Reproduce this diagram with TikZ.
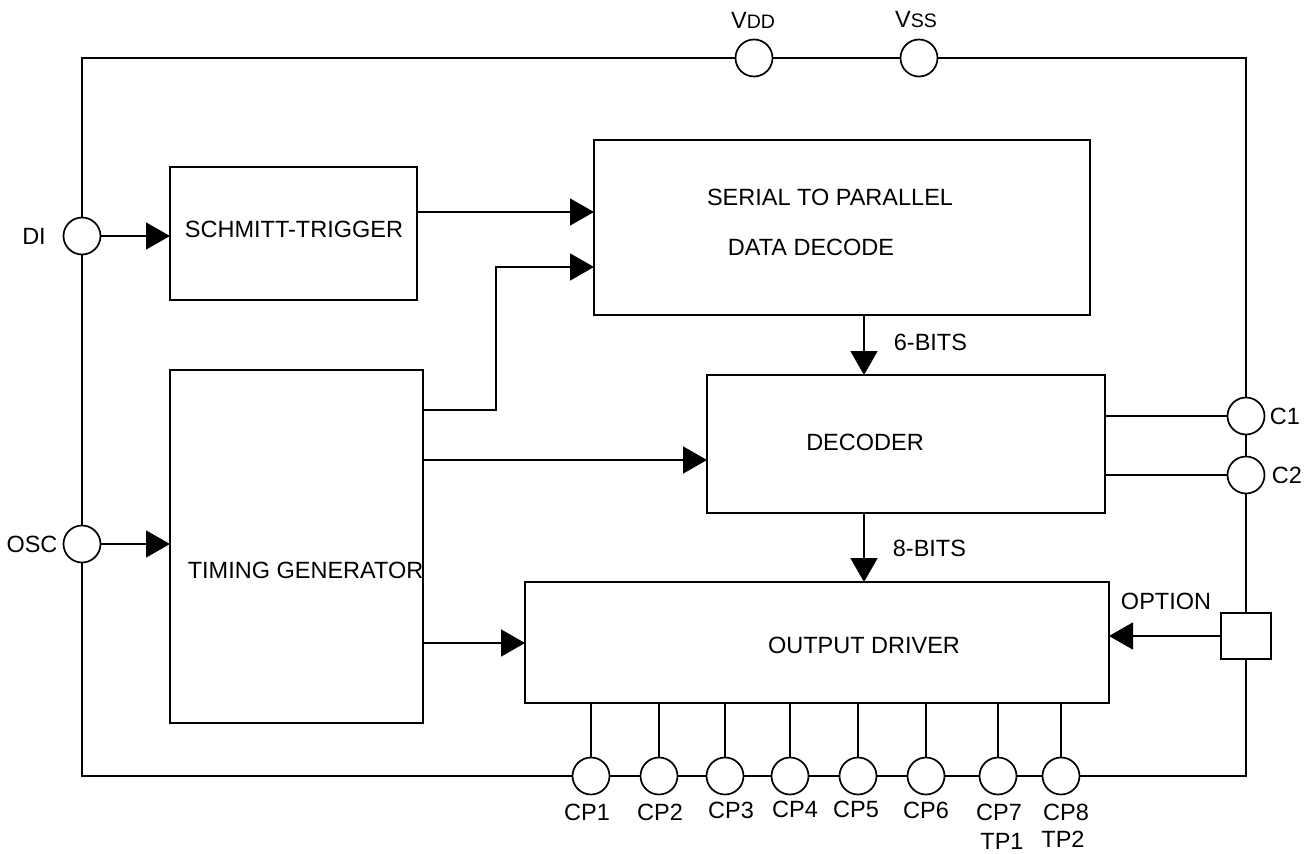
\documentclass[tikz,border=0pt]{standalone}
\usepackage{fontspec}
\setmainfont{Liberation Sans}
\usetikzlibrary{arrows.meta,calc}
\begin{document}
\begin{tikzpicture}[x=1pt,y=-1pt,
  line width=1.7pt,
  blk/.style={draw, rectangle, inner sep=0pt, outer sep=0pt},
  pad/.style={draw, circle, fill=white, minimum size=37pt, inner sep=0pt, outer sep=0pt},
  txt/.style={inner sep=0pt, font=\fontsize{23.5}{28}\selectfont},
  arr/.style={-{Triangle[length=24pt,width=27pt]}},
]
\useasboundingbox (0,0) rectangle (1315,854);

% frame corners
\coordinate (tl) at (82,58);
\coordinate (tr) at (1246,58);
\coordinate (bl) at (82,776);
\coordinate (br) at (1246,776);

% blocks
\node[blk, minimum width=247pt, minimum height=133pt] (schmitt) at (293.5,233.5) {};
\node[blk, minimum width=496pt, minimum height=175pt] (serial) at (842,227.5) {};
\node[blk, minimum width=253pt, minimum height=353pt] (timing) at (296.5,546.5) {};
\node[blk, minimum width=398pt, minimum height=138pt] (decoder) at (906,444) {};
\node[blk, minimum width=584pt, minimum height=121pt] (output) at (817,642.5) {};

% pads
\node[pad] (vdd) at (754,58) {};
\node[pad] (vss) at (919,58) {};
\node[pad] (di) at (82,236) {};
\node[pad] (osc) at (82,544) {};
\node[pad] (c1) at (1246,416) {};
\node[pad] (c2) at (1246,475) {};
\node[blk, fill=white, minimum width=50pt, minimum height=46pt] (opt) at (1246,636) {};
\foreach \n/\x in {1/591,2/659,3/725,4/790,5/858,6/926,7/998,8/1061}{
  \node[pad] (cp\n) at (\x,776) {};
}

% frame
\draw (di.north) -- (tl) -- (vdd.west);
\draw (vdd.east) -- (vss.west);
\draw (vss.east) -- (tr) -- (c1.north);
\draw (c1.south) -- (c2.north);
\draw (c2.south) -- (opt.north);
\draw (opt.south) -- (br) -- (cp8.east);
\foreach \a/\b in {8/7,7/6,6/5,5/4,4/3,3/2,2/1}{
  \draw (cp\a.west) -- (cp\b.east);
}
\draw (cp1.west) -- (bl) -- (osc.south);
\draw (osc.north) -- (di.south);

% pin stubs
\foreach \n in {1,...,8}{
  \draw (cp\n.north) -- (cp\n |- output.south);
}

% helper coordinates
\coordinate (ya) at (0,212);
\coordinate (yb) at (0,267);
\coordinate (yc) at (0,410);
\coordinate (yd) at (0,460);
\coordinate (ye) at (0,643);
\coordinate (xa) at (864,0);
\coordinate (xb) at (496,0);

% connectors
\draw[arr] (di.east) -- (di -| schmitt.west);
\draw[arr] (osc.east) -- (osc -| timing.west);
\draw[arr] (schmitt.east |- ya) -- (serial.west |- ya);
\draw[arr] (timing.east |- yc) -- (xb |- yc) -- (xb |- yb) -- (serial.west |- yb);
\draw[arr] (timing.east |- yd) -- (decoder.west |- yd);
\draw[arr] (timing.east |- ye) -- (output.west |- ye);
\draw[arr] (serial.south -| xa) -- (decoder.north -| xa);
\draw[arr] (decoder.south -| xa) -- (output.north -| xa);
\draw (c1.west) -- (decoder.east |- c1);
\draw (c2.west) -- (decoder.east |- c2);
\draw[arr] (opt.west) -- (output.east |- opt);

% texts
\node[txt] (tschmitt) at (294,229) {SCHMITT-TRIGGER};
\node[txt] (tserial1) at (830,197) {SERIAL TO PARALLEL};
\node[txt] (tserial2) at (811,247) {DATA DECODE};
\node[txt, anchor=west] (ttiming) at (187,570) {TIMING GENERATOR};
\node[txt] (tdecoder) at (865,442) {DECODER};
\node[txt] (toutput) at (864,645) {OUTPUT DRIVER};
\node[txt] (toption) at (1166,601) {OPTION};
\node[txt, anchor=west] (t6) at (893,342) {6-BITS};
\node[txt, anchor=west] (t8) at (892,548) {8-BITS};
\node[txt] (tdi) at (34,236) {DI};
\node[txt] (tosc) at (32,544) {OSC};
\node[txt] (tc1) at (1285,416) {C1};
\node[txt] (tc2) at (1287,475) {C2};
\node[txt] (tvdd) at (753,20) {V{\fontsize{19.5}{22}\selectfont DD}};
\node[txt] (tvss) at (916,20) {V{\fontsize{19.5}{22}\selectfont SS}};
\node[txt] (tcp1) at (587,812) {CP1};
\node[txt] (tcp2) at (660,812) {CP2};
\node[txt] (tcp3) at (731,810) {CP3};
\node[txt] (tcp4) at (795,809) {CP4};
\node[txt] (tcp5) at (856,809) {CP5};
\node[txt] (tcp6) at (926,810) {CP6};
\node[txt] (tcp7) at (999,812) {CP7};
\node[txt] (tcp8) at (1066,812) {CP8};
\node[txt] (ttp1) at (1002,841) {TP1};
\node[txt] (ttp2) at (1063,839) {TP2};
\end{tikzpicture}
\end{document}
